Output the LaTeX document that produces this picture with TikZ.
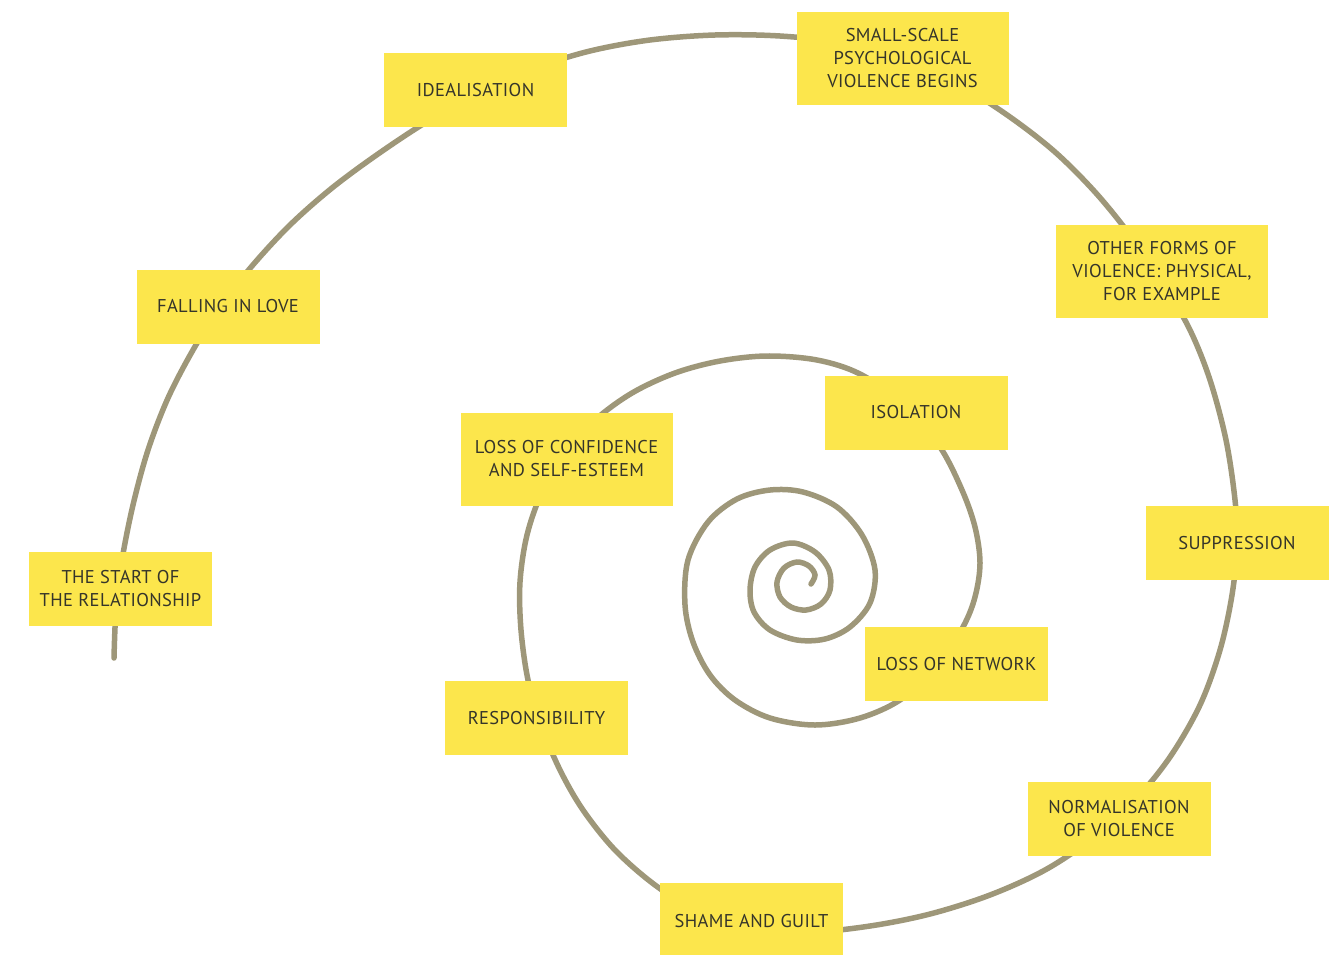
\documentclass[tikz,border=0pt]{standalone}
\usepackage{fontspec}
\setmainfont{PT Sans}[LetterSpace=2]
\definecolor{spiralc}{HTML}{9E9779}
\definecolor{boxc}{HTML}{FCE64C}
\definecolor{textc}{HTML}{35352A}
\tikzset{
  stage/.style={fill=boxc, draw=none, inner sep=0pt, minimum width=183pt, minimum height=74pt,
    align=center, text=textc, font=\fontsize{18.5}{23}\selectfont},
  widestage/.style={stage, minimum width=212pt, minimum height=93pt},
  spiralline/.style={draw=spiralc, line width=5.5pt, line cap=round}
}
\begin{document}
\begin{tikzpicture}[x=1pt,y=-1pt]
\useasboundingbox (0,0) rectangle (1340,954);
\draw[spiralline] plot[smooth, tension=0.55] coordinates {
(114,658) (116,610) (122,560) (133,505) (148,450) (168,398) (193,350) (220,307)
(252,266) (290,225) (332,188) (378,154) (428,121) (480,92) (535,68) (590,51)
(650,40) (715,35) (780,36) (845,43) (905,58) (960,85) (1010,117) (1055,152)
(1095,192) (1130,235) (1163,283) (1190,330) (1210,380) (1226,440) (1235,500)
(1237,545) (1232,595) (1220,650) (1200,705) (1170,757) (1135,800) (1093,838)
(1045,870) (990,895) (930,914) (870,926) (810,932) (750,928) (700,913) (655,885)
(615,850) (583,810) (560,770) (541,725) (528,680) (521,630) (520,582) (527,535)
(542,492) (565,453) (595,420) (632,393) (675,373) (720,361) (767,356) (817,360)
(860,374) (905,405) (940,447) (962,490) (975,527) (980,563) (975,597) (963,627)
(937,668) (900,700) (860,718) (815,725) (770,718) (735,700) (710,675) (693,642)
(685,605) (688,560) (708,522) (737,499) (770,490) (803,492) (837,507) (862,535)
(875,570) (870,603) (850,627) (825,639) (797,640) (770,630) (754,612) (750,590)
(755,567) (770,550) (793,543) (815,552) (829,570) (830,590) (821,604) (806,610)
(791,607) (780,597) (777,582) (784,568) (797,562) (809,566) (815,575) (811,584)
};
\node[stage] (start) at (120.5,589) {THE START OF\\THE RELATIONSHIP};
\node[stage] (love) at (228,306.5) {FALLING IN LOVE};
\node[stage] (ideal) at (475.5,90) {IDEALISATION};
\node[widestage] (small) at (902.5,58) {SMALL-SCALE\\PSYCHOLOGICAL\\VIOLENCE BEGINS};
\node[widestage] (other) at (1162,271.5) {OTHER FORMS OF\\VIOLENCE: PHYSICAL,\\FOR EXAMPLE};
\node[stage] (supp) at (1237,543) {SUPPRESSION};
\node[stage] (norm) at (1119,819) {NORMALISATION\\OF VIOLENCE};
\node[stage, minimum height=76pt] (shame) at (751.5,921) {SHAME AND GUILT};
\node[stage] (resp) at (536.5,718) {RESPONSIBILITY};
\node[widestage] (conf) at (566.5,459) {LOSS OF CONFIDENCE\\AND SELF-ESTEEM};
\node[stage] (iso) at (916,412.5) {ISOLATION};
\node[stage] (net) at (956.5,664) {LOSS OF NETWORK};
\end{tikzpicture}
\end{document}
